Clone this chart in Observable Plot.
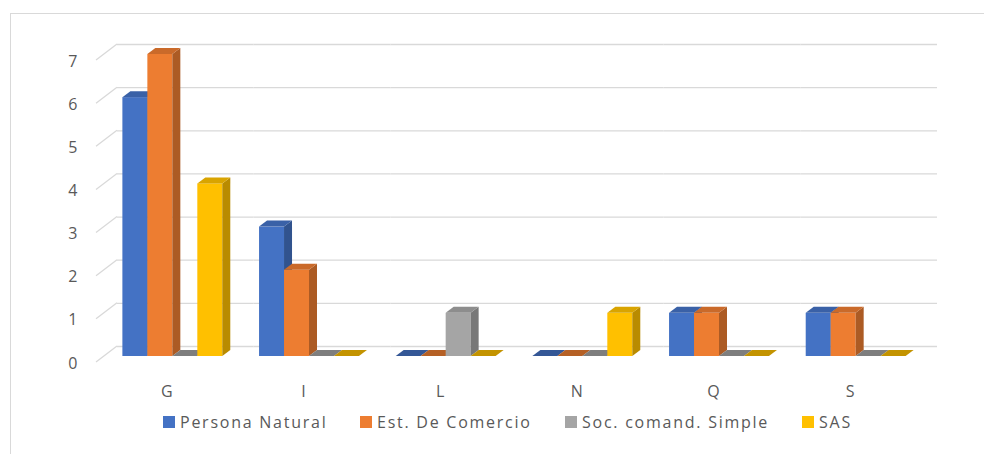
<!DOCTYPE html>
<html><head><meta charset="utf-8">
<script src="https://cdn.jsdelivr.net/npm/d3@7"></script>
<script src="https://cdn.jsdelivr.net/npm/@observablehq/plot@0.6"></script>
<style>
html,body{margin:0;padding:0;background:#fff;width:984px;height:454px;overflow:hidden;}
#wrap{position:relative;width:984px;height:454px;font-family:"Open Sans",sans-serif;color:#595959;}
#frame{position:absolute;left:10px;top:13px;width:1100px;height:600px;border:1px solid #d9d9d9;box-sizing:border-box;}
#chart{position:absolute;left:0;top:0;}
#legend{position:absolute;left:0;top:412px;width:984px;height:20px;font-size:16px;letter-spacing:1.75px;line-height:20px;white-space:nowrap;}
.item{position:absolute;top:0;display:flex;align-items:center;}
.sw{width:12px;height:12px;margin-right:5px;flex:none;}
</style></head><body><div id="wrap"><div id="frame"></div><div id="chart"></div><div id="legend"></div></div>
<script>
const categories = ["G", "I", "L", "N", "Q", "S"];
const series = ["Persona Natural", "Est. De Comercio", "Soc. comand. Simple", "SAS"];
const personaNatural = [6, 3, 0, 0, 1, 1];
const estComercio = [7, 2, 0, 0, 1, 1];
const socComandSimple = [0, 0, 1, 0, 0, 0];
const sas = [4, 0, 0, 1, 0, 0];
const yTicks = [0, 1, 2, 3, 4, 5, 6, 7];
const colors = ["#4472C4", "#ED7D31", "#A5A5A5", "#FFC000"];

const valuesBySeries = [personaNatural, estComercio, socComandSimple, sas];
const data = [];
categories.forEach((c, ci) => {
  series.forEach((s, si) => data.push({cat: c, series: s, value: valuesBySeries[si][ci]}));
});

const plot = Plot.plot({
  width: 984,
  height: 400,
  marginLeft: 104,
  marginRight: 60,
  marginTop: 54,
  marginBottom: 44,
  style: {fontFamily: "Open Sans, sans-serif", fontSize: "16px", color: "#595959", background: "transparent", overflow: "visible"},
  fx: {domain: categories, padding: 0, round: false},
  x: {domain: series, paddingInner: 0, paddingOuter: 0.736, round: false, axis: null},
  y: {domain: [0, 7]},
  color: {domain: series, range: colors},
  marks: [
    Plot.ruleY(yTicks, {dx: 13, dy: -10, stroke: "#d9d9d9", strokeWidth: 1.3}),
    Plot.axisY({ticks: yTicks, tickSize: 0, tickPadding: 27, dy: 7, label: null, tickFormat: d3.format("d")}),
    Plot.axisFx({tickSize: 0, tickPadding: 29, dx: -6, label: null, anchor: "bottom"}),
    Plot.barY(data, {fx: "cat", x: "series", y: "value", fill: "series"})
  ]
});
document.getElementById("chart").append(plot);

// 3D depth faces derived from the rendered bars
const DX = 8, DY = -6;
const ns = "http://www.w3.org/2000/svg";
plot.querySelectorAll('g[aria-label="bar"] rect').forEach(r => {
  const x = +r.getAttribute("x"), y = +r.getAttribute("y");
  const w = +r.getAttribute("width"), h = +r.getAttribute("height");
  const base = d3.color(r.getAttribute("fill"));
  const flat = h < 0.5;
  const side = document.createElementNS(ns, "polygon");
  side.setAttribute("points", `${x + w},${y} ${x + w + DX},${y + DY} ${x + w + DX},${y + h + DY} ${x + w},${y + h}`);
  side.setAttribute("fill", base.darker(0.9).formatHex());
  const top = document.createElementNS(ns, "polygon");
  top.setAttribute("points", `${x},${y} ${x + w},${y} ${x + w + DX},${y + DY} ${x + DX},${y + DY}`);
  top.setAttribute("fill", base.darker(flat ? 0.75 : 0.45).formatHex());
  const next = r.nextSibling;
  r.parentNode.insertBefore(side, next);
  r.parentNode.insertBefore(top, next);
});

// perspective connectors from the axis labels to the back wall
const yS = plot.scale("y");
const g = document.createElementNS(ns, "g");
yTicks.forEach(v => {
  const yy = yS.apply(v);
  const l = document.createElementNS(ns, "line");
  l.setAttribute("x1", 96); l.setAttribute("y1", yy + 6);
  l.setAttribute("x2", 117); l.setAttribute("y2", yy - 10);
  l.setAttribute("stroke", "#d9d9d9"); l.setAttribute("stroke-width", 1.3);
  g.appendChild(l);
});
plot.insertBefore(g, plot.firstChild.nextSibling);

// legend
const legendLeft = [163, 360, 565, 802];
const legend = document.getElementById("legend");
series.forEach((s, i) => {
  const it = document.createElement("div");
  it.className = "item";
  it.style.left = legendLeft[i] + "px";
  const sw = document.createElement("span");
  sw.className = "sw"; sw.style.background = colors[i];
  const t = document.createElement("span");
  t.textContent = s;
  it.append(sw, t);
  legend.append(it);
});
</script></body></html>
